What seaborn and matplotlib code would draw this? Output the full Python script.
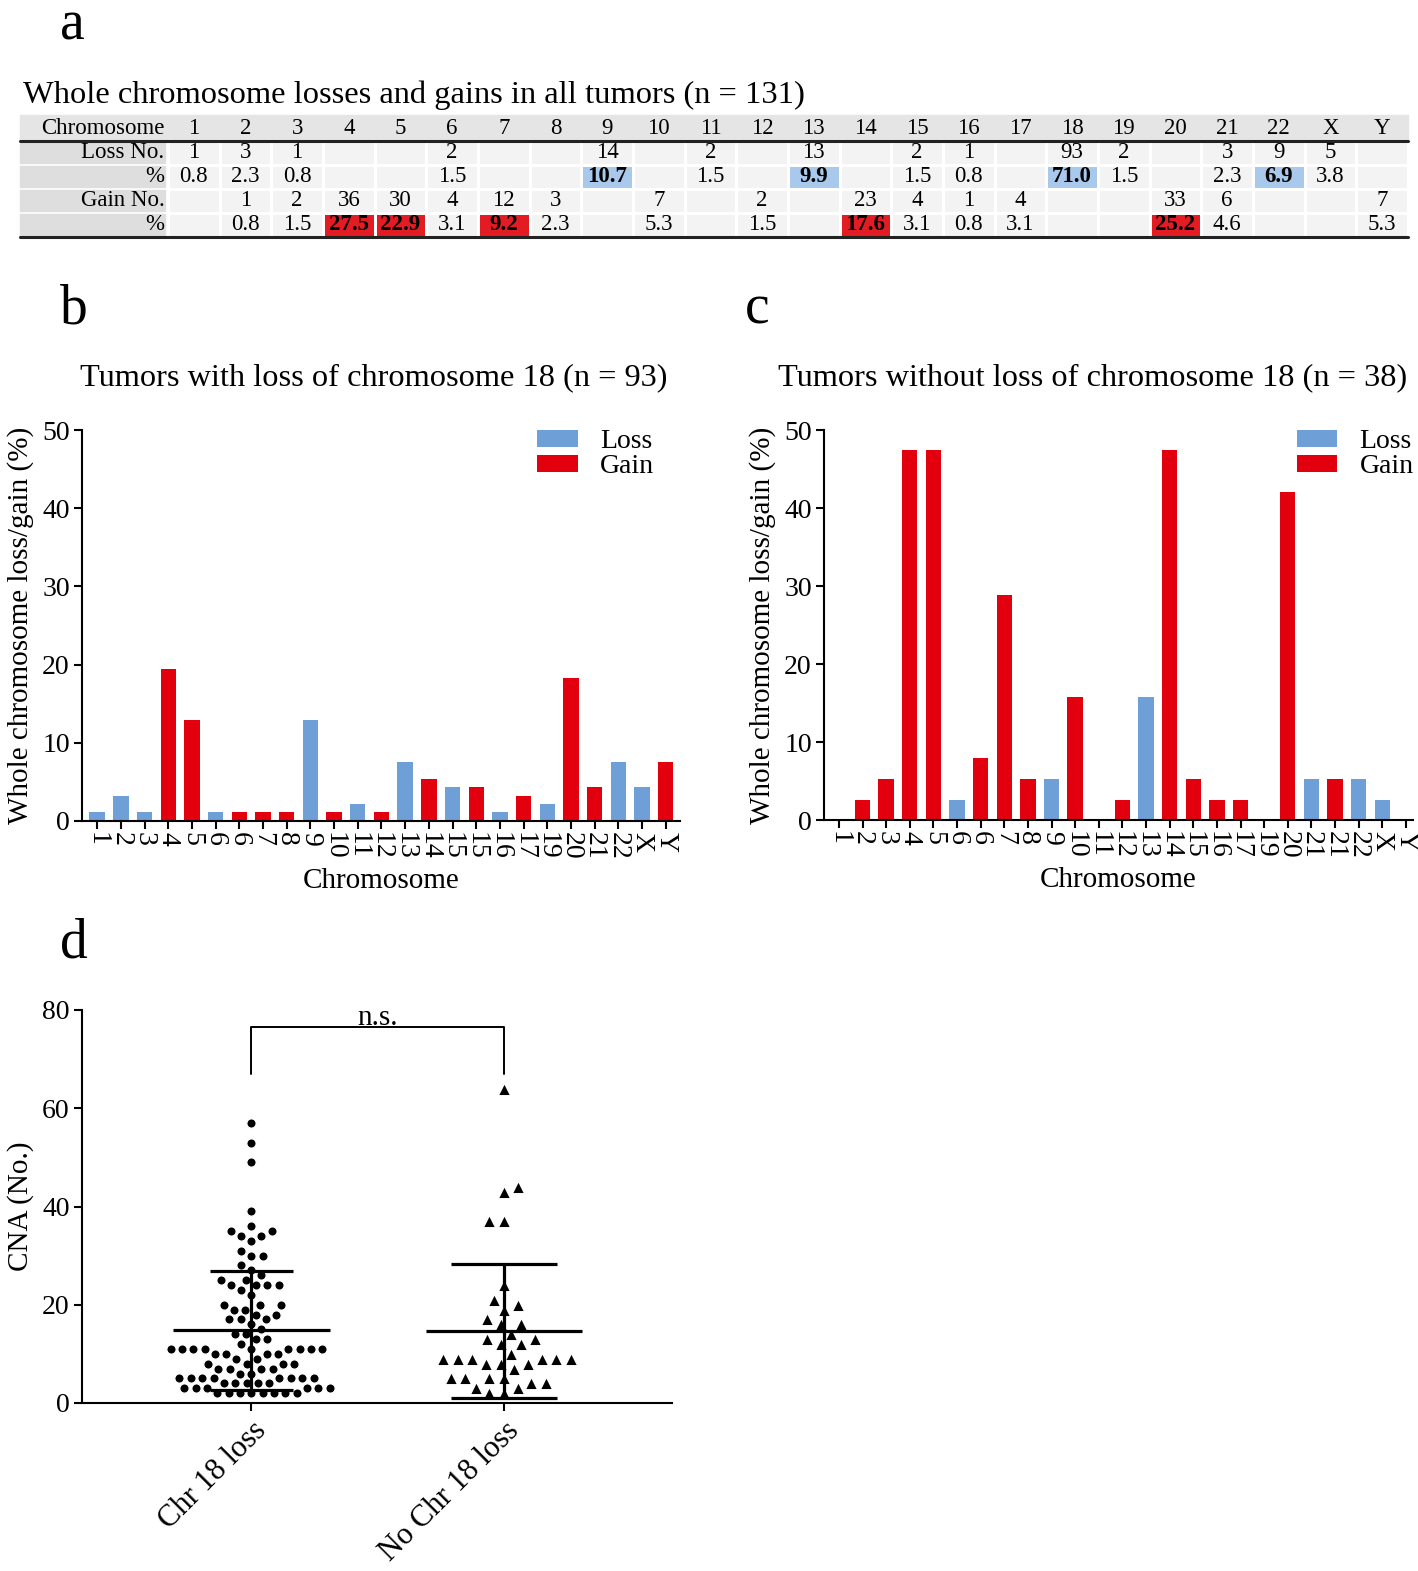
import numpy as np
import pandas as pd
import matplotlib
matplotlib.use("Agg")
import matplotlib.pyplot as plt
import seaborn as sns
from matplotlib.colors import ListedColormap
from matplotlib.patches import Rectangle

# ---------------- data ----------------
chromosomes = ['1', '2', '3', '4', '5', '6', '7', '8', '9', '10', '11', '12', '13',
               '14', '15', '16', '17', '18', '19', '20', '21', '22', 'X', 'Y']
loss_no = [1, 3, 1, None, None, 2, None, None, 14, None, 2, None, 13, None, 2, 1,
           None, 93, 2, None, 3, 9, 5, None]
loss_pct = [0.8, 2.3, 0.8, None, None, 1.5, None, None, 10.7, None, 1.5, None, 9.9,
            None, 1.5, 0.8, None, 71.0, 1.5, None, 2.3, 6.9, 3.8, None]
gain_no = [None, 1, 2, 36, 30, 4, 12, 3, None, 7, None, 2, None, 23, 4, 1, 4, None,
           None, 33, 6, None, None, 7]
gain_pct = [None, 0.8, 1.5, 27.5, 22.9, 3.1, 9.2, 2.3, None, 5.3, None, 1.5, None,
            17.6, 3.1, 0.8, 3.1, None, None, 25.2, 4.6, None, None, 5.3]
row_labels = ['Loss No.', '%', 'Gain No.', '%']
highlight_threshold = 6.0

b_labels = ['1', '2', '3', '4', '5', '6', '6', '7', '8', '9', '10', '11', '12', '13',
            '14', '15', '15', '16', '17', '19', '20', '21', '22', 'X', 'Y']
b_types = ['Loss', 'Loss', 'Loss', 'Gain', 'Gain', 'Loss', 'Gain', 'Gain', 'Gain', 'Loss',
           'Gain', 'Loss', 'Gain', 'Loss', 'Gain', 'Loss', 'Gain', 'Loss', 'Gain', 'Loss',
           'Gain', 'Gain', 'Loss', 'Loss', 'Gain']
b_values = [1.1, 3.2, 1.1, 19.4, 12.9, 1.1, 1.1, 1.1, 1.1, 12.9, 1.1, 2.2, 1.1, 7.5,
            5.4, 4.3, 4.3, 1.1, 3.2, 2.2, 18.3, 4.3, 7.5, 4.3, 7.5]

c_labels = ['1', '2', '3', '4', '5', '6', '6', '7', '8', '9', '10', '11', '12', '13',
            '14', '15', '16', '17', '19', '20', '21', '21', '22', 'X', 'Y']
c_types = ['Gain', 'Gain', 'Gain', 'Gain', 'Gain', 'Loss', 'Gain', 'Gain', 'Gain', 'Loss',
           'Gain', 'Gain', 'Gain', 'Loss', 'Gain', 'Gain', 'Gain', 'Gain', 'Gain', 'Gain',
           'Loss', 'Gain', 'Loss', 'Loss', 'Gain']
c_values = [0, 2.6, 5.3, 47.4, 47.4, 2.6, 7.9, 28.9, 5.3, 5.3, 15.8, 0, 2.6, 15.8,
            47.4, 5.3, 2.6, 2.6, 0, 42.1, 5.3, 5.3, 5.3, 2.6, 0]

groups = ['Chr 18 loss', 'No Chr 18 loss']
cna_chr18_loss = [2, 2, 2, 2, 2, 2, 2, 2, 3, 3, 3, 3, 3, 3, 4, 4, 4, 4, 4,
                  5, 5, 5, 5, 5, 5, 5, 5, 6, 6, 7, 7, 7, 7, 8, 8, 8, 8, 9, 9,
                  10, 10, 10, 10, 11, 11, 11, 11, 11, 11, 11, 11, 11,
                  12, 13, 13, 14, 14, 15, 16, 17, 17, 17, 18, 18, 19, 19,
                  20, 20, 20, 22, 23, 24, 24, 24, 24, 25, 25, 26, 27, 28,
                  30, 30, 31, 33, 34, 34, 35, 35, 36, 39, 49, 53, 57]
cna_no_chr18_loss = [2, 2, 3, 3, 4, 4, 5, 5, 5, 5, 7, 8, 8, 8, 9, 9, 9, 9, 9, 9,
                     10, 12, 12, 13, 13, 14, 16, 16, 17, 19, 20, 21, 24, 37, 37,
                     43, 44, 64]

# ---------------- style ----------------
sns.set_theme(style="ticks")
plt.rcParams['font.family'] = ['Liberation Serif', 'DejaVu Serif']
plt.rcParams['axes.linewidth'] = 1.5
plt.rcParams['xtick.major.width'] = 1.5
plt.rcParams['ytick.major.width'] = 1.5
plt.rcParams['xtick.major.size'] = 5.8
plt.rcParams['ytick.major.size'] = 5.8
plt.rcParams['axes.edgecolor'] = 'black'
plt.rcParams['xtick.color'] = 'black'
plt.rcParams['ytick.color'] = 'black'
plt.rcParams['text.color'] = 'black'
plt.rcParams['axes.labelcolor'] = 'black'

W, H = 1418, 1571
fig = plt.figure(figsize=(W / 100, H / 100), dpi=100)


def box(x0, y0, x1, y1):
    return [x0 / W, 1 - y1 / H, (x1 - x0) / W, (y1 - y0) / H]


def fx(x):
    return x / W


def fy(y):
    return 1 - y / H


LOSS_C = '#6e9fd7'
GAIN_C = '#e2000f'

# ---------------- panel a: table ----------------
ax_t = fig.add_axes(box(20, 115, 1408, 237))
ncol = len(chromosomes)
code = np.zeros((4, ncol))
for j in range(ncol):
    if loss_pct[j] is not None and loss_pct[j] >= highlight_threshold:
        code[1, j] = 1
    if gain_pct[j] is not None and gain_pct[j] >= highlight_threshold:
        code[3, j] = 2


def fmt_int(v):
    return '' if v is None else str(v)


def fmt_pct(v):
    return '' if v is None else f"{v:.1f}"


annot = np.array([[fmt_int(v) for v in loss_no],
                  [fmt_pct(v) for v in loss_pct],
                  [fmt_int(v) for v in gain_no],
                  [fmt_pct(v) for v in gain_pct]])
sns.heatmap(code, ax=ax_t, cmap=ListedColormap(['#f3f3f3', '#a8c8ec', '#e31c23']),
            vmin=0, vmax=2, cbar=False, annot=annot, fmt='',
            annot_kws=dict(color='black', fontsize=16.5),
            linewidths=2, linecolor='white', xticklabels=False, yticklabels=False)
for t in ax_t.texts:
    x, y = t.get_position()
    if code[int(y), int(x)] > 0:
        t.set_fontweight('bold')

lab_w = (168 - 20) / ((1408 - 168) / ncol)
ax_t.set_xlim(-lab_w, ncol)
ax_t.set_ylim(4, -1.07)
ax_t.add_patch(Rectangle((-lab_w, -1.07), lab_w + ncol, 1.07, color='#e5e5e5', zorder=0,
                         clip_on=False))
for i, lab in enumerate(row_labels):
    ax_t.add_patch(Rectangle((-lab_w, i + 0.06), lab_w - 0.05, 0.88, color='#dedede',
                             zorder=0, clip_on=False))
    ax_t.text(-0.07, i + 0.5, lab, ha='right', va='center', fontsize=16.5)
ax_t.text(-0.07, -0.5, 'Chromosome', ha='right', va='center', fontsize=16.5)
for j, c in enumerate(chromosomes):
    ax_t.text(j + 0.5, -0.5, c, ha='center', va='center', fontsize=16.5)
ax_t.plot([-lab_w, ncol], [0, 0], color='#222222', lw=2.2, clip_on=False, zorder=5)
ax_t.plot([-lab_w, ncol], [4, 4], color='#222222', lw=2.2, clip_on=False, zorder=5)
ax_t.set_axis_off()

fig.text(fx(60), fy(39), 'a', fontsize=40, va='baseline', ha='left')
fig.text(fx(23), fy(103), 'Whole chromosome losses and gains in all tumors (n = 131)',
         fontsize=23.4, va='baseline', ha='left')


# ---------------- panels b, c: bars ----------------
def bar_panel(ax, labels, types, values, xlim, legend_x):
    df = pd.DataFrame({'pos': [str(i) for i in range(len(labels))],
                       'type': types, 'value': values})
    sns.barplot(data=df, x='pos', y='value', hue='type', hue_order=['Loss', 'Gain'],
                palette={'Loss': LOSS_C, 'Gain': GAIN_C}, dodge=False, width=0.65,
                saturation=1, linewidth=0, errorbar=None, ax=ax)
    ax.set_xticks(range(len(labels)))
    ax.set_xticklabels(labels, rotation=-90, fontsize=20)
    ax.tick_params(axis='x', pad=2)
    ax.set_xlim(*xlim)
    ax.set_ylim(0, 50)
    ax.set_yticks([0, 10, 20, 30, 40, 50])
    ax.tick_params(axis='y', labelsize=20, pad=3)
    ax.set_ylabel('Whole chromosome loss/gain (%)', fontsize=21, labelpad=6)
    ax.set_xlabel('Chromosome', fontsize=21, labelpad=6)
    sns.despine(ax=ax)
    h, l = ax.get_legend_handles_labels()
    ax.legend(h, l, loc='upper right', bbox_to_anchor=(legend_x, 1.03), frameon=False,
              fontsize=20, handlelength=1.45, handleheight=0.6, handletextpad=0.8,
              labelspacing=0.0, borderaxespad=0)


ax_b = fig.add_axes(box(82, 430, 680, 821))
bar_panel(ax_b, b_labels, b_types, b_values, (-0.64, 24.6), 0.975)
ax_c = fig.add_axes(box(824, 430, 1413, 820))
bar_panel(ax_c, c_labels, c_types, c_values, (-0.63, 24.3), 1.02)

fig.text(fx(60), fy(323), 'b', fontsize=40, va='baseline', ha='left')
fig.text(fx(745), fy(323), 'c', fontsize=40, va='baseline', ha='left')
fig.text(fx(374), fy(385), 'Tumors with loss of chromosome 18 (n = 93)', fontsize=23.3,
         va='baseline', ha='center')
fig.text(fx(1093), fy(385), 'Tumors without loss of chromosome 18 (n = 38)', fontsize=23.3,
         va='baseline', ha='center')

# ---------------- panel d: scatter ----------------
ax_d = fig.add_axes(box(82, 1010, 672, 1403))
df_d = pd.DataFrame({'group': [groups[0]] * len(cna_chr18_loss) + [groups[1]] * len(cna_no_chr18_loss),
                     'cna': cna_chr18_loss + cna_no_chr18_loss})
marker_styles = [('o', 6.8, 1.0), ('^', 9.0, 1.0)]
for g, (m, sz, lw) in zip(groups, marker_styles):
    sns.swarmplot(data=df_d[df_d['group'] == g], x='group', y='cna', order=groups,
                  color='black', marker=m, size=sz, linewidth=lw, edgecolor='white',
                  ax=ax_d, zorder=3)
cap_half = [0.165, 0.21]
for i, g in enumerate(groups):
    vals = df_d.loc[df_d['group'] == g, 'cna']
    m, s = vals.mean(), vals.std()
    ax_d.hlines(m, i - 0.31, i + 0.31, color='black', lw=2.3, zorder=6)
    ax_d.hlines([m - s, m + s], i - cap_half[i], i + cap_half[i], color='black', lw=2.3, zorder=6)
    ax_d.vlines(i, m - s, m + s, color='black', lw=2.3, zorder=6)
ax_d.plot([0, 0, 1, 1], [67, 76.5, 76.5, 67], color='black', lw=1.4, zorder=6)
ax_d.text(0.5, 76.9, 'n.s.', ha='center', va='baseline', fontsize=21)
ax_d.set_xlim(-0.67, 1.665)
ax_d.set_ylim(0, 80)
ax_d.set_yticks([0, 20, 40, 60, 80])
ax_d.tick_params(axis='y', labelsize=20, pad=3)
ax_d.set_xticks([0, 1])
ax_d.set_xticklabels(groups, rotation=45, ha='right', rotation_mode='anchor', fontsize=22)
ax_d.tick_params(axis='x', pad=4)
ax_d.set_xlabel('')
ax_d.set_ylabel('CNA (No.)', fontsize=21, labelpad=6)
sns.despine(ax=ax_d)
fig.text(fx(60), fy(958), 'd', fontsize=40, va='baseline', ha='left')

fig.savefig('out.png', dpi=100)
